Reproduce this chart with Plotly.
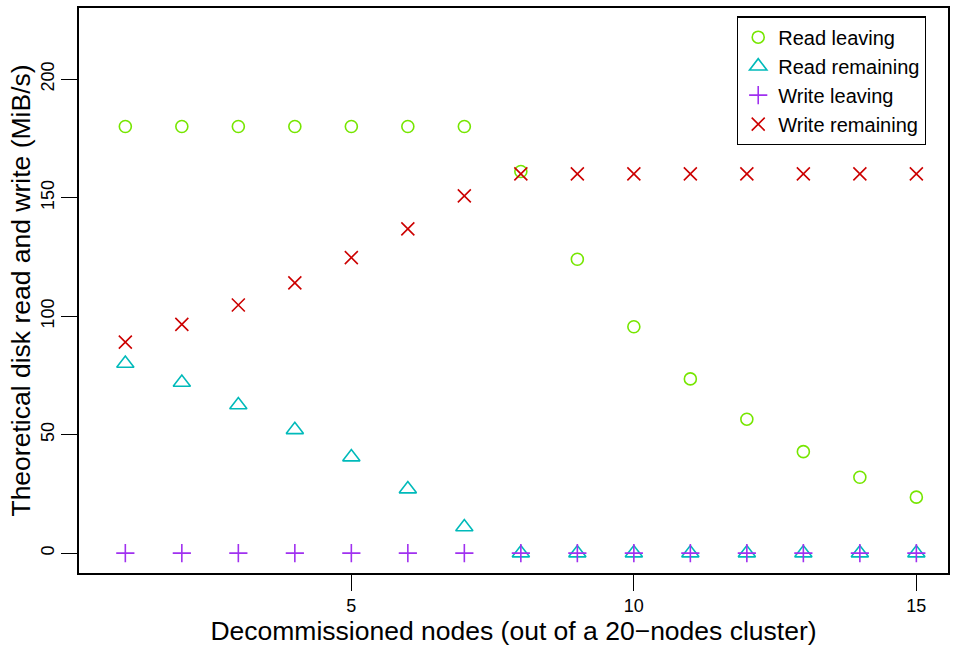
import plotly.graph_objects as go

nodes = list(range(1, 16))
read_leaving = [180, 180, 180, 180, 180, 180, 180, 161, 124, 95.5, 73.5, 56.5, 42.8, 32, 23.6]
read_remaining = [80, 72, 62.5, 52, 40.5, 27, 11, 0, 0, 0, 0, 0, 0, 0, 0]
write_leaving = [0] * 15
write_remaining = [89, 96.5, 104.7, 114, 124.7, 136.8, 150.7, 160, 160, 160, 160, 160, 160, 160, 160]

x_ticks = [5, 10, 15]
y_ticks = [0, 50, 100, 150, 200]

FONT = "Liberation Sans, Arial, Helvetica, sans-serif"

series = [
    ("Read leaving", read_leaving, "circle-open", 12, "#76E600"),
    ("Read remaining", read_remaining, "triangle-up-open", 15, "#00BABA"),
    ("Write leaving", write_leaving, "cross-thin-open", 13, "#A030F0"),
    ("Write remaining", write_remaining, "x-thin-open", 13, "#CC0000"),
]

fig = go.Figure()
for name, vals, sym, size, col in series:
    fig.add_trace(go.Scatter(
        x=nodes, y=vals, mode="markers", name=name,
        marker=dict(symbol=sym, size=size, color=col, line=dict(color=col, width=1.6)),
    ))

fig.update_layout(
    width=956, height=651,
    margin=dict(l=79, r=6, t=8, b=78),
    paper_bgcolor="white", plot_bgcolor="white",
    font=dict(family=FONT, color="black"),
    showlegend=True,
    legend=dict(
        x=0.9747, y=0.985, xanchor="right", yanchor="top",
        bordercolor="black", borderwidth=1.2, bgcolor="white",
        font=dict(size=20, family=FONT), tracegroupgap=0,
    ),
    xaxis=dict(
        range=[0.18, 15.56], tickvals=x_ticks, ticks="outside", ticklen=16,
        tickwidth=1.2, tickcolor="black", showline=True, linecolor="black",
        linewidth=1.5, mirror=True, showgrid=False, zeroline=False,
        tickfont=dict(size=18),
        title=dict(text="Decommissioned nodes (out of a 20\u2212nodes cluster)",
                   font=dict(size=26.5), standoff=3),
    ),
    yaxis=dict(
        range=[-8.4, 230], tickvals=y_ticks, ticks="outside", ticklen=16,
        tickwidth=1.2, tickcolor="black", showline=True, linecolor="black",
        linewidth=1.5, mirror=True, showgrid=False, zeroline=False,
        tickangle=-90, tickfont=dict(size=18),
        title=dict(text="Theoretical disk read and write (MiB/s)",
                   font=dict(size=26.5), standoff=0),
    ),
)

fig.write_html("out.html")
